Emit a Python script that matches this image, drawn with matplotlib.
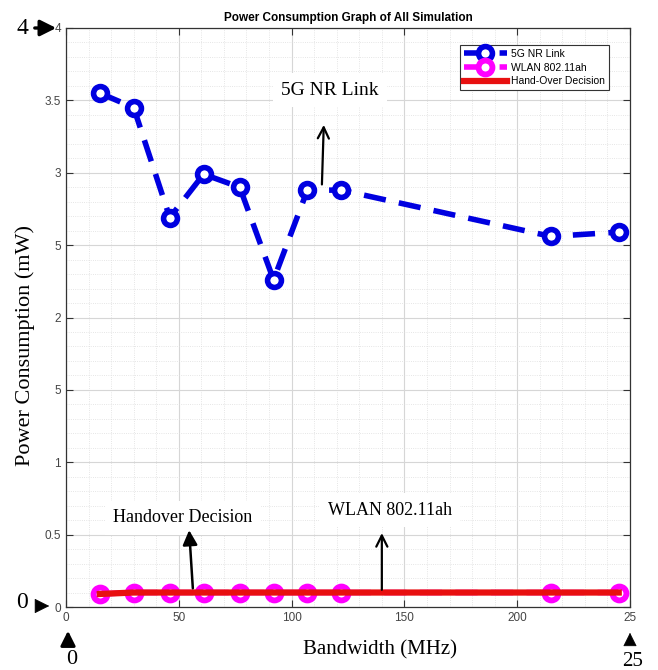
import numpy as np
import matplotlib.pyplot as plt
from matplotlib.patches import FancyArrowPatch
from matplotlib.ticker import MultipleLocator

# data
bandwidth = [15, 30, 46, 61, 77, 92, 107, 122, 215, 245]
power_5g = [3.55, 3.45, 2.69, 2.99, 2.90, 2.26, 2.88, 2.88, 2.56, 2.59]
power_wlan = [0.09, 0.10, 0.10, 0.10, 0.10, 0.10, 0.10, 0.10, 0.10, 0.10]
power_handover = [0.09, 0.10, 0.10, 0.10, 0.10, 0.10, 0.10, 0.10, 0.10, 0.10]

x_ticks = [0, 50, 100, 150, 200, 250]
x_labels = ['0', '50', '100', '150', '200', '25']
y_ticks = [0, 0.5, 1, 1.5, 2, 2.5, 3, 3.5, 4]
y_labels = ['0', '0.5', '1', '5', '2', '5', '3', '3.5', '4']

SERIF = 'Liberation Serif'
SANS = 'Liberation Sans'

fig = plt.figure(figsize=(6.58, 6.70), dpi=100)
ax = fig.add_axes([66 / 658, 1 - 607 / 670, (630 - 66) / 658, (607 - 28) / 670])

ax.plot(bandwidth, power_5g, color='#0000e0', lw=4, linestyle=(0, (4.0, 2.4)),
        marker='o', markersize=10, markeredgewidth=4, markerfacecolor='white',
        label='5G NR Link', zorder=4)
ax.plot(bandwidth, power_wlan, color='#ff00ff', lw=4, linestyle=(0, (4.0, 2.4)),
        marker='o', markersize=10, markeredgewidth=4.2, markerfacecolor='white',
        label='WLAN 802.11ah', zorder=3)
ax.plot(bandwidth, power_handover, color='#e81010', lw=4.5, label='Hand-Over Decision', zorder=5)

ax.set_xlim(0, 250)
ax.set_ylim(0, 4)
ax.set_xticks(x_ticks)
ax.set_xticklabels(x_labels)
ax.set_yticks(y_ticks)
ax.set_yticklabels(y_labels)
ax.xaxis.set_minor_locator(MultipleLocator(10))
ax.yaxis.set_minor_locator(MultipleLocator(0.1))
ax.tick_params(which='both', direction='in', top=True, right=True, labelsize=8.5,
               labelcolor='#444444', color='#333333')
ax.tick_params(which='major', length=5)
ax.tick_params(which='minor', length=0)
for lab in ax.get_xticklabels() + ax.get_yticklabels():
    lab.set_fontfamily(SANS)
ax.grid(True, which='major', color='#d6d6d6', lw=0.8)
ax.grid(True, which='minor', color='#dddddd', lw=0.6, linestyle=':')
ax.set_axisbelow(True)
for s in ax.spines.values():
    s.set_color('#333333')
    s.set_linewidth(0.9)

leg = ax.legend(loc='upper right', bbox_to_anchor=(0.972, 0.979),
                prop={'family': SANS, 'size': 7.5}, handlelength=4.2, numpoints=1,
                fancybox=False, edgecolor='#333333', framealpha=1,
                borderpad=0.35, labelspacing=0.35, handletextpad=0.4)
leg.get_frame().set_linewidth(0.8)

ax.set_title('Power Consumption Graph of All Simulation', fontsize=8.5,
             fontweight='bold', fontfamily=SANS, pad=5)

box = dict(facecolor='white', edgecolor='none', pad=6)
ax.text(116.9, 3.57, '5G NR Link', fontsize=14, family=SERIF, ha='center', va='center',
        bbox=box, zorder=6)
ax.annotate('', xy=(114.3, 3.35), xytext=(113.4, 2.9),
            arrowprops=dict(arrowstyle='->', lw=1.6, color='black', mutation_scale=20), zorder=6)
ax.text(51.8, 0.615, 'Handover Decision', fontsize=13, family=SERIF, ha='center', va='center',
        bbox=box, zorder=6)
ax.annotate('', xy=(54.5, 0.55), xytext=(56.3, 0.11),
            arrowprops=dict(arrowstyle='-|>', lw=1.8, color='black', mutation_scale=22), zorder=6)
ax.text(143.5, 0.67, 'WLAN 802.11ah', fontsize=13, family=SERIF, ha='center', va='center',
        bbox=box, zorder=6)
ax.annotate('', xy=(140, 0.53), xytext=(140, 0.10),
            arrowprops=dict(arrowstyle='->', lw=1.6, color='black', mutation_scale=20), zorder=6)

# axis labels
fig.text(380 / 658, 1 - 650 / 670, 'Bandwidth (MHz)', fontsize=15, family=SERIF,
         ha='center', va='center')
fig.text(25 / 658, 1 - 345 / 670, 'Power Consumption (mW)', fontsize=16, family=SERIF,
         ha='center', va='center', rotation=90)


def fig_arrow(p0, p1, scale, lw):
    # p0, p1 in pixels from top-left
    fig.patches.append(FancyArrowPatch((p0[0], 670 - p0[1]), (p1[0], 670 - p1[1]),
                                       transform=None, arrowstyle='-|>',
                                       mutation_scale=scale, lw=lw, color='black'))


# marks around the axis ends
fig.text(22 / 658, 1 - 28 / 670, '4', fontsize=17, family=SERIF, ha='center', va='center')
fig_arrow((32, 28), (59, 28), 24, 2.4)
fig.text(22 / 658, 1 - 603 / 670, '0', fontsize=17, family=SERIF, ha='center', va='center')
fig_arrow((40, 606), (52, 606), 24, 0.5)
fig.text(72 / 658, 1 - 659 / 670, '0', fontsize=16, family=SERIF, ha='center', va='center')
fig_arrow((68, 646), (68, 628), 22, 2.2)
fig.text(633 / 658, 1 - 661 / 670, '25', fontsize=15, family=SERIF, ha='center', va='center')
fig_arrow((630, 645), (630, 630), 22, 0.5)

fig.savefig('out.png', dpi=100)
